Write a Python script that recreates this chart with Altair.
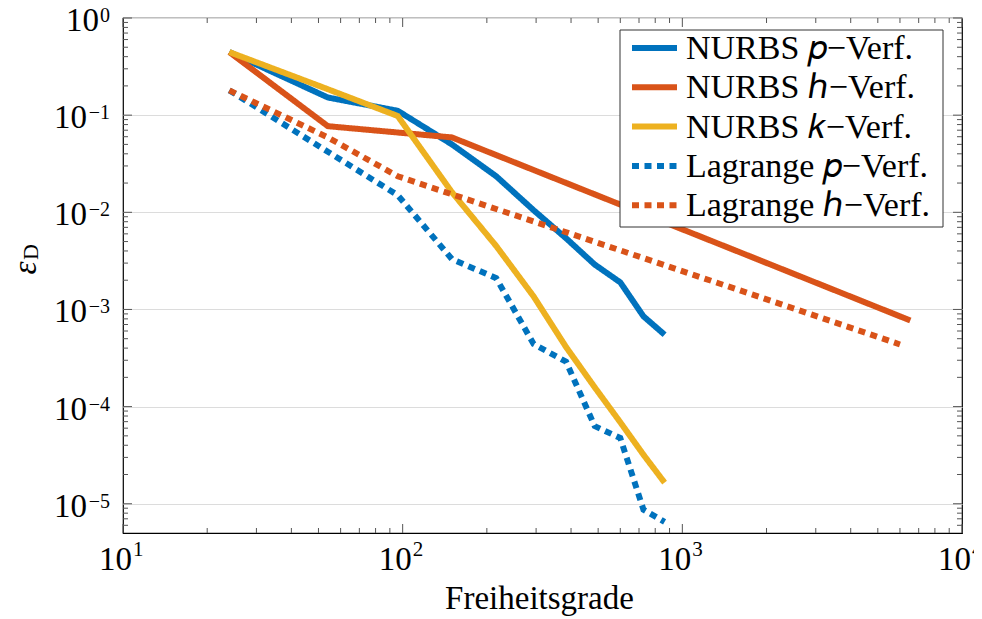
import altair as alt
import pandas as pd

# ---------------- data ----------------
series_names = ["NURBS 𝑝−Verf.", "NURBS ℎ−Verf.", "NURBS 𝑘−Verf.",
                "Lagrange 𝑝−Verf.", "Lagrange ℎ−Verf."]
series_colors = ["#0072BD", "#D95319", "#EDB120", "#0072BD", "#D95319"]
series_dash = [[1, 0], [1, 0], [1, 0], [7, 5.5], [7, 5.5]]

x_p = [24, 54, 96, 150, 216, 294, 384, 486, 600, 726, 864]
nurbs_p = [0.446, 0.152, 0.111, 0.050, 0.0235, 0.0105, 0.0054, 0.0029, 0.0019, 0.00085, 0.00055]
nurbs_k = [0.446, 0.185, 0.098, 0.0161, 0.0045, 0.00136, 0.00041, 0.000158, 0.000069, 0.000032, 0.0000165]
lag_p = [0.18, 0.042, 0.015, 0.0033, 0.0021, 0.00044, 0.00029, 0.000063, 0.0000475, 0.0000087, 0.0000065]

x_h_nurbs = [24, 54, 150, 486, 1734, 6534]
nurbs_h = [0.446, 0.077, 0.059, 0.0153, 0.00355, 0.00077]

x_h_lag = [24, 54, 96, 486, 1734, 6000]
lag_h = [0.18, 0.059, 0.0235, 0.00497, 0.00146, 0.000436]

x_major = [10, 100, 1000, 10000]
x_exp = ["1", "2", "3", "4"]
y_major = [1, 0.1, 0.01, 0.001, 0.0001, 0.00001]
y_exp = ["0", "−1", "−2", "−3", "−4", "−5"]
x_minor = [m * d for d in (10, 100, 1000) for m in range(2, 10)]
y_minor = [m * d for d in (1e-6, 1e-5, 1e-4, 1e-3, 1e-2, 1e-1) for m in range(2, 10) if m * d >= 5e-6]

x_title = "Freiheitsgrade"

# ---------------- build ----------------
rows = []
for name, xs, ys in [(series_names[0], x_p, nurbs_p),
                     (series_names[1], x_h_nurbs, nurbs_h),
                     (series_names[2], x_p, nurbs_k),
                     (series_names[3], x_p, lag_p),
                     (series_names[4], x_h_lag, lag_h)]:
    for i, (xv, yv) in enumerate(zip(xs, ys)):
        rows.append({"s": name, "x": xv, "y": yv, "i": i})
df = pd.DataFrame(rows)

W, H = 839, 515
FONT = "Liberation Serif"
xs_ = alt.Scale(type="log", domain=[10, 10000], nice=False)
ys_ = alt.Scale(type="log", domain=[5e-6, 1], nice=False)
color_scale = alt.Scale(domain=series_names, range=series_colors)
dash_scale = alt.Scale(domain=series_names, range=series_dash)
GRID = "#dcdcdc"
TICK = "#555555"

lines = alt.Chart(df).mark_line(strokeWidth=6, strokeCap="butt").encode(
    x=alt.X("x:Q", scale=xs_, axis=alt.Axis(values=x_major, grid=True, gridColor=GRID,
                                             labels=False, ticks=False, domain=False, title=None)),
    y=alt.Y("y:Q", scale=ys_, axis=alt.Axis(values=y_major, grid=True, gridColor=GRID,
                                             labels=False, ticks=False, domain=False, title=None)),
    color=alt.Color("s:N", scale=color_scale, legend=None),
    strokeDash=alt.StrokeDash("s:N", scale=dash_scale, legend=None),
    order="i:Q",
)

# inward ticks
xminor_df = pd.DataFrame({"v": x_minor})
yminor_df = pd.DataFrame({"v": y_minor})
xmaj_df = pd.DataFrame({"v": x_major, "e": x_exp})
ymaj_df = pd.DataFrame({"v": y_major, "e": y_exp})

def xticks(d, L):
    b = alt.Chart(d).mark_rule(color=TICK, strokeWidth=1).encode(
        x=alt.X("v:Q", scale=xs_, axis=None), y=alt.value(H), y2=alt.value(H - L))
    t = alt.Chart(d).mark_rule(color=TICK, strokeWidth=1).encode(
        x=alt.X("v:Q", scale=xs_, axis=None), y=alt.value(0), y2=alt.value(L))
    return b + t

def yticks(d, L):
    l = alt.Chart(d).mark_rule(color=TICK, strokeWidth=1).encode(
        y=alt.Y("v:Q", scale=ys_, axis=None), x=alt.value(0), x2=alt.value(L))
    r = alt.Chart(d).mark_rule(color=TICK, strokeWidth=1).encode(
        y=alt.Y("v:Q", scale=ys_, axis=None), x=alt.value(W), x2=alt.value(W - L))
    return l + r

ticks = xticks(xminor_df, 5) + xticks(xmaj_df, 9) + yticks(yminor_df, 5) + yticks(ymaj_df, 9)

# tick labels (10 with superscript exponent)
xl_base = alt.Chart(xmaj_df).mark_text(align="right", baseline="alphabetic", dx=9,
                                        font=FONT, fontSize=33, color="black").encode(
    x=alt.X("v:Q", scale=xs_, axis=None), y=alt.value(H + 37), text=alt.value("10"))
xl_exp = alt.Chart(xmaj_df).mark_text(align="left", baseline="alphabetic", dx=10,
                                       font=FONT, fontSize=21, color="black").encode(
    x=alt.X("v:Q", scale=xs_, axis=None), y=alt.value(H + 23), text="e:N")

yl_exp = alt.Chart(ymaj_df).mark_text(align="right", baseline="alphabetic", dy=4,
                                       font=FONT, fontSize=20, color="black").encode(
    y=alt.Y("v:Q", scale=ys_, axis=None), x=alt.value(-13), text="e:N")
yl_base0 = alt.Chart(ymaj_df).transform_filter("datum.v == 1").mark_text(
    align="right", baseline="alphabetic", dy=13, font=FONT, fontSize=33, color="black").encode(
    y=alt.Y("v:Q", scale=ys_, axis=None), x=alt.value(-24), text=alt.value("10"))
yl_baseN = alt.Chart(ymaj_df).transform_filter("datum.v < 1").mark_text(
    align="right", baseline="alphabetic", dy=13, font=FONT, fontSize=33, color="black").encode(
    y=alt.Y("v:Q", scale=ys_, axis=None), x=alt.value(-36), text=alt.value("10"))

one = pd.DataFrame({"k": [0]})
ytitle_eps = alt.Chart(one).mark_text(angle=270, align="center", baseline="middle",
                                      font=FONT, fontSize=33, fontStyle="italic", color="black").encode(
    x=alt.value(-97), y=alt.value(250), text=alt.value("ε"))
ytitle_d = alt.Chart(one).mark_text(angle=270, align="center", baseline="middle",
                                    font=FONT, fontSize=22, color="black").encode(
    x=alt.value(-92), y=alt.value(234), text=alt.value("D"))
xtitle = alt.Chart(one).mark_text(align="center", baseline="alphabetic",
                                  font=FONT, fontSize=33, color="black").encode(
    x=alt.value(W / 2 - 3), y=alt.value(H + 76), text=alt.value(x_title))

# legend box built from the series list
leg_df = pd.DataFrame({"s": series_names})
leg_y = alt.Y("s:N", scale=alt.Scale(type="point", domain=series_names, range=[30, 187.2], padding=0),
              axis=None)
leg_box = alt.Chart(one).mark_rect(fill="white", stroke="#333333", strokeWidth=1).encode(
    x=alt.value(497), x2=alt.value(820), y=alt.value(12), y2=alt.value(209))
leg_sym = alt.Chart(leg_df).mark_rule(strokeWidth=6, strokeCap="butt").encode(
    x=alt.value(509), x2=alt.value(554), y=leg_y,
    color=alt.Color("s:N", scale=color_scale, legend=None),
    strokeDash=alt.StrokeDash("s:N", scale=dash_scale, legend=None))
leg_txt = alt.Chart(leg_df).mark_text(align="left", baseline="middle", dy=1,
                                      font=FONT, fontSize=34, color="black").encode(
    x=alt.value(563), y=leg_y, text="s:N")

chart = alt.layer(
    lines, ticks, xl_base, xl_exp, yl_exp, yl_base0, yl_baseN, ytitle_eps, ytitle_d, xtitle,
    leg_box, leg_sym, leg_txt
).resolve_scale(y="independent", color="shared", strokeDash="shared").properties(
    width=W, height=H,
    autosize=alt.AutoSizeParams(type="none"),
    padding={"left": 115, "top": 10, "right": 12, "bottom": 85},
).configure_view(stroke="black", strokeWidth=1.2)

chart.save("out.html", embed_options={"renderer": "svg", "actions": False})
